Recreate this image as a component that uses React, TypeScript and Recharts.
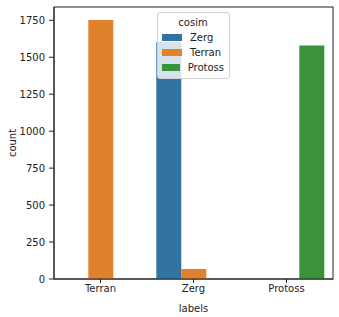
import { BarChart, Bar, XAxis, YAxis, Legend, Label, usePlotArea } from 'recharts'

// counts per label, split by cosim
const categories = ['Terran', 'Zerg', 'Protoss']
const zergCounts = [null, 1604, null]
const terranCounts = [1752, 68, null]
const protossCounts = [null, null, 1579]
const yTicks = [0, 250, 500, 750, 1000, 1250, 1500, 1750]

const series = [
  { key: 'Zerg', color: '#3274a1', values: zergCounts },
  { key: 'Terran', color: '#e1812c', values: terranCounts },
  { key: 'Protoss', color: '#3a923a', values: protossCounts },
]

const data = categories.map((label, i) => {
  const row: Record<string, string | number | null> = { label }
  series.forEach((s) => {
    row[s.key] = s.values[i]
  })
  return row
})

const FONT = 'DejaVu Sans, sans-serif'
const INK = '#222'

// matplotlib-style box around the plot area
function Frame() {
  const area = usePlotArea()
  if (!area) return null
  return (
    <rect
      x={area.x}
      y={area.y}
      width={area.width}
      height={area.height}
      fill="none"
      stroke={INK}
    />
  )
}

function HueLegend() {
  return (
    <div
      style={{
        background: 'rgba(255,255,255,0.8)',
        border: '1px solid #d0d0d0',
        borderRadius: 3,
        padding: '2px 5px 3px 4px',
        fontFamily: FONT,
        fontSize: 10,
        color: INK,
        lineHeight: '15px',
        boxSizing: 'border-box',
      }}
    >
      <div style={{ textAlign: 'center' }}>cosim</div>
      {series.map((s) => (
        <div key={s.key} style={{ display: 'flex', alignItems: 'center' }}>
          <span
            style={{
              display: 'inline-block',
              width: 20,
              height: 7,
              background: s.color,
              marginRight: 8,
            }}
          />
          <span>{s.key}</span>
        </div>
      ))}
    </div>
  )
}

export default function App() {
  return (
    <div style={{ position: 'absolute', left: 0, top: 0, background: '#fff' }}>
      <BarChart
        width={339}
        height={317}
        data={data}
        margin={{ top: 7, right: 6, left: 0, bottom: 4 }}
        barCategoryGap="10%"
        barGap={0}
        style={{ fontFamily: FONT }}
      >
        <XAxis
          dataKey="label"
          height={34}
          tick={{ fontSize: 10, fill: INK }}
          tickSize={4}
          tickMargin={2}
          tickLine={{ stroke: INK }}
          axisLine={{ stroke: INK }}
        >
          <Label value="labels" position="insideBottom" offset={1} fontSize={10} fill={INK} />
        </XAxis>
        <YAxis
          width={54}
          domain={[0, 1840]}
          ticks={yTicks}
          allowDataOverflow
          tick={{ fontSize: 10, fill: INK }}
          tickSize={5}
          tickMargin={4}
          tickLine={{ stroke: INK }}
          axisLine={{ stroke: INK }}
        >
          <Label
            value="count"
            angle={-90}
            position="insideLeft"
            offset={12}
            textAnchor="middle"
            fontSize={10}
            fill={INK}
          />
        </YAxis>
        <Legend
          layout="horizontal"
          verticalAlign="middle"
          align="center"
          content={() => <HueLegend />}
          wrapperStyle={{ position: 'absolute', left: 157, top: 12, width: 73 }}
        />
        {series.map((s) => (
          <Bar key={s.key} dataKey={s.key} fill={s.color} isAnimationActive={false} />
        ))}
        <Frame />
      </BarChart>
    </div>
  )
}
